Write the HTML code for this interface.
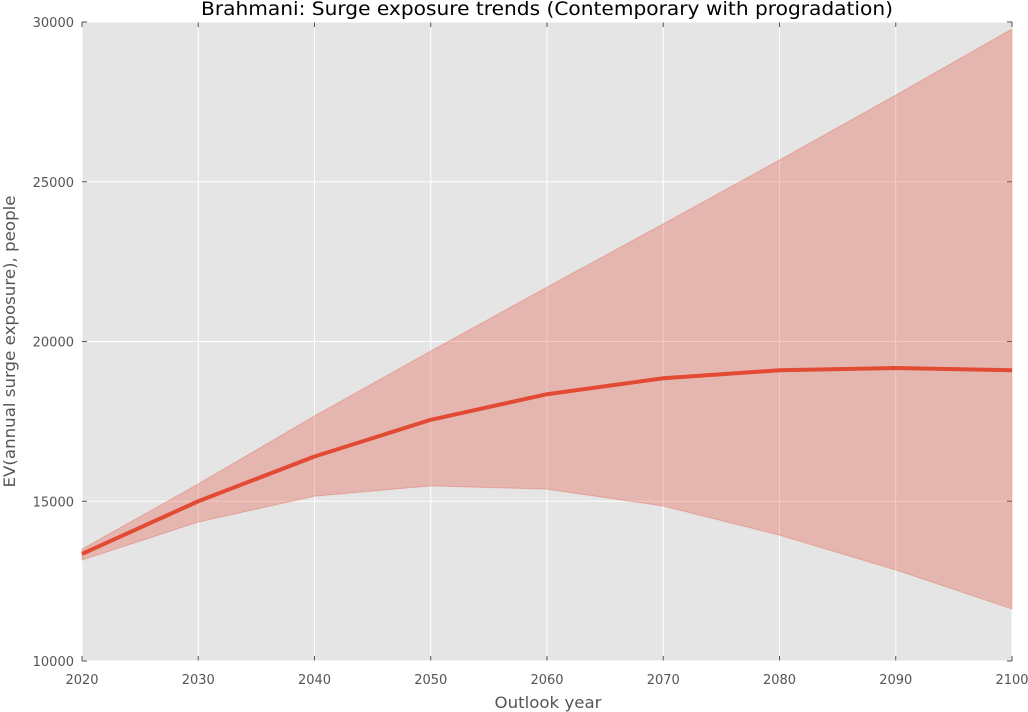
<!DOCTYPE html>
<html><head><meta charset="utf-8"><style>
html,body{margin:0;padding:0;background:#fff;}
svg{display:block;font-family:"DejaVu Sans","Liberation Sans",sans-serif;}
</style></head><body>
<svg id="chart" width="1028" height="712" xmlns="http://www.w3.org/2000/svg"></svg>
<script>
const years = [2020,2030,2040,2050,2060,2070,2080,2090,2100];
const meanVals = [13350,15000,16400,17550,18350,18850,19100,19170,19100];
const upperVals = [13500,15540,17670,19700,21700,23680,25680,27710,29780];
const lowerVals = [13160,14350,15160,15480,15380,14850,13940,12850,11630];
const xTicks = [2020,2030,2040,2050,2060,2070,2080,2090,2100];
const yTicks = [10000,15000,20000,25000,30000];

const L=82,R=1012,T=22,B=661;
const xs=v=>L+(v-2020)/(2100-2020)*(R-L);
const ys=v=>B-(v-10000)/(30000-10000)*(B-T);
const svg=document.getElementById('chart');
const NS='http://www.w3.org/2000/svg';
function mk(tag,attrs,parent){const e=document.createElementNS(NS,tag);for(const k in attrs)e.setAttribute(k,attrs[k]);(parent||svg).appendChild(e);return e;}

const bg=mk('rect',{x:L,y:T,width:R-L,height:B-T,fill:'#e5e5e5'});



xTicks.forEach(t=>{
  const g=mk('line',{x1:xs(t),x2:xs(t),y1:T,y2:B,stroke:'#fff','stroke-width':1});
  
  
  mk('line',{x1:xs(t),x2:xs(t),y1:B,y2:B-5,stroke:'#555'});
  mk('line',{x1:xs(t),x2:xs(t),y1:T,y2:T+5,stroke:'#555'});
  const lb=mk('text',{x:xs(t),y:B+23,'text-anchor':'middle','font-size':13,fill:'#555'});
  lb.textContent=t;
  
  
});
yTicks.forEach(t=>{
  const g=mk('line',{x1:L,x2:R,y1:ys(t),y2:ys(t),stroke:'#fff','stroke-width':1});
  
  
  mk('line',{x1:L,x2:L+5,y1:ys(t),y2:ys(t),stroke:'#555'});
  mk('line',{x1:R,x2:R-5,y1:ys(t),y2:ys(t),stroke:'#555'});
  const lb=mk('text',{x:L-8,y:ys(t)+5,'text-anchor':'end','font-size':13,fill:'#555'});
  lb.textContent=t;
  
  
});

let d='M'+years.map((y,i)=>xs(y)+','+ys(upperVals[i])).join('L');
for(let i=years.length-1;i>=0;i--) d+='L'+xs(years[i])+','+ys(lowerVals[i]);
d+='Z';
const band=mk('path',{d:d,fill:'#e24a33','fill-opacity':0.3,stroke:'#e24a33','stroke-opacity':0.3});



const line=mk('polyline',{points:years.map((y,i)=>xs(y)+','+ys(meanVals[i])).join(' '),fill:'none',stroke:'#e24a33','stroke-width':4,'stroke-linejoin':'round'});



const title=mk('text',{x:(L+R)/2,y:15,'text-anchor':'middle','font-size':19,fill:'#000',textLength:692,lengthAdjust:'spacingAndGlyphs'});
title.textContent='Brahmani: Surge exposure trends (Contemporary with progradation)';



const xt=mk('text',{x:(L+R)/2+1,y:708,'text-anchor':'middle','font-size':16,fill:'#555',textLength:107,lengthAdjust:'spacingAndGlyphs'});
xt.textContent='Outlook year';



const yt=mk('text',{x:0,y:0,'text-anchor':'middle','font-size':16,fill:'#555',textLength:292,lengthAdjust:'spacingAndGlyphs',transform:'translate(15,'+((T+B)/2)+') rotate(-90)'});
yt.textContent='EV(annual surge exposure), people';


</script>
</body></html>
